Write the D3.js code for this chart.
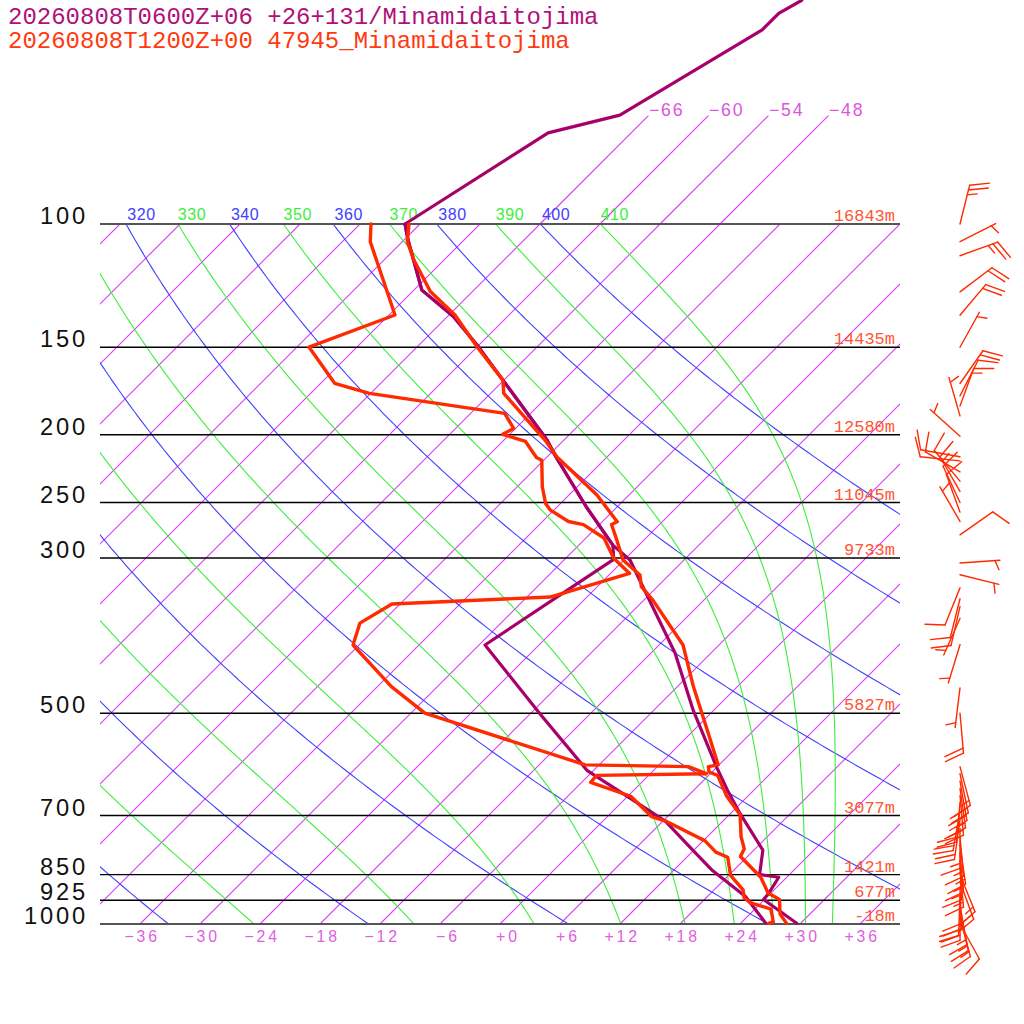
<!DOCTYPE html>
<html><head><meta charset="utf-8">
<script src="https://cdn.jsdelivr.net/npm/d3@7"></script>
<style>body{margin:0;background:#fff}</style>
</head><body>
<svg id="c" width="1024" height="1024" xmlns="http://www.w3.org/2000/svg"></svg>
<script>
// ---------------- data ----------------
const titleForecast = "20260808T0600Z+06 +26+131/Minamidaitojima";
const titleObserved = "20260808T1200Z+00 47945_Minamidaitojima";
const pressureLevels = [100,150,200,250,300,500,700,850,925,1000];
const heightLabels = ["16843m","14435m","12580m","11045m","9733m","5827m","3077m","1421m","677m","-18m"];
const tempTicks = [-36,-30,-24,-18,-12,-6,0,6,12,18,24,30,36];
const isotherms = [-108,-102,-96,-90,-84,-78,-72,-66,-60,-54,-48,-42,-36,-30,-24,-18,-12,-6,0,6,12,18,24,30,36];
const upperIsotherms = [-66,-60,-54,-48];
const dryAdiabats = [240,260,280,300,320,340,360,380,400];
const moistAdiabats = [250,270,290,310,330,350,370,390,410];

// observed sounding (red)
const obsTempP = [100,106,112.6,124.9,134.9,150.4,167.1,174.5,190.5,203.5,215.2,243.9,266.3,268.7,282.9,302,317.3,329.7,344.6,399.4,458,528,592.4,595.9,606.6,613.4,656.9,698.4,750.9,780.7,801,857.4,902.8,922.5,967.6,998];
const obsTemp  = [-79.1,-77.5,-75.0,-70.2,-65.4,-59.8,-54.1,-52.7,-47.7,-43.9,-41.0,-33.2,-28.5,-28.8,-26.7,-24.1,-20.9,-19.6,-17.1,-9.6,-4.4,1.3,5.9,5.1,5.7,6.9,9.9,13.1,15.4,16.9,17.3,21.4,23.7,25.5,27.0,28.6];
const obsDewP = [100,106,134.9,149.9,168.9,174.6,186.4,195.9,199.7,204.5,215.6,217.5,237.3,250.7,256.1,266.1,268.8,280.9,300.3,315.6,341.1,349.1,371.7,399.4,458,499.8,592.4,595.9,609.9,613.4,627.5,656.9,702.2,713.6,760.8,789.6,803,852.3,893.9,917.6,932.3,952.2,992.5,997.7];
const obsDew  = [-82.9,-81.2,-71.4,-76.8,-70.6,-66.1,-50.6,-48.2,-48.7,-45.7,-43.0,-42.2,-39.5,-37.5,-36.4,-33.4,-31.6,-28.2,-25.2,-22.1,-27.7,-42.8,-44.1,-42.6,-34.6,-28.6,-7.4,3.1,5.6,-5.2,-5.1,0.3,4.4,6.4,12.2,14.4,16.1,18.2,20.9,21.8,22.9,25.6,27.1,26.8];

// forecast sounding (purple)
const fcTempP = [47.9,50.0,52.8,69.9,74.1,100,105.4,124.3,135.6,148.9,167.1,203.5,215.2,253.5,287.6,302.0,322.8,410.0,494.5,595.9,643.1,694.5,784.3,849.5,857.4,903.6,922.5,997.7];
const fcTemp  = [-62.2,-63.2,-63.2,-68.9,-74.3,-79.5,-77.6,-71.2,-65.4,-60.2,-54.1,-43.7,-41.1,-33.1,-26.6,-23.4,-20.4,-9.6,-2.1,5.9,9.3,12.9,18.9,21.0,23.2,23.8,23.9,29.6];
const fcDewP = [100,105.4,124.3,135.6,148.9,167.1,203.5,215.2,253.5,287.6,301.3,399.4,502.0,603.9,660.8,713.6,776.5,838.7,913.6,995.6];
const fcDew  = [-79.5,-77.6,-71.2,-65.4,-60.2,-54.1,-43.7,-41.1,-33.1,-26.6,-25.1,-29.4,-16.9,-6.6,0.4,6.3,11.3,15.9,21.8,26.4];

// observed winds
const windP   = [100,106,111,125,135,150,169,176,182,188,201,215,218,226,233,241,250,258,266,278,305,317,331,343,352,366,399,460,500,596,610,625,640,655,670,690,710,730,750,770,790,810,830,850,870,890,910,925,940,960,980,1000];
const windDir = [14,63,70,53,40,29,35,27,20,344,312,280,276,300,320,330,335,340,330,55,86,104,202,194,193,204,197,187,175,165,168,170,172,175,185,190,188,180,175,172,175,178,175,158,160,178,182,180,170,168,165,151];
const windSpd = [25,5,25,20,20,5,20,10,15,5,5,10,10,10,10,15,10,10,5,10,5,5,10,10,10,5,5,5,20,15,20,20,15,20,20,20,20,15,15,15,15,15,15,15,15,20,20,20,15,15,15,10];

// ---------------- styles ----------------
const COL = {
  iso: "#d83cf4", isoLab: "#dd55dd", dry: "#4040ff", moist: "#3cee3c",
  fc: "#a8006a", fcTitle: "#b0107a", obs: "#ff2a00", obsTitle: "#ff3a10",
  hgt: "#ff5533", tick: "#e060e0"
};

// ---------------- scales ----------------
const svg = d3.select("#c");
const y = d3.scaleLog().domain([100, 1000]).range([224, 924]);
const xT = d3.scaleLinear().domain([-40, 40]).range([100, 900]);
const skewX = (t, p) => xT(t) + (y(1000) - y(p));

const defs = svg.append("defs");
defs.append("clipPath").attr("id","plot").append("rect").attr("x",100).attr("y",224).attr("width",800).attr("height",700);

const grid = svg.append("g").attr("clip-path","url(#plot)");
const lineGen = d3.line().x(d => skewX(d.t, d.p)).y(d => y(d.p));

// pressure sampling
const pSteps = [];
for (let lp = Math.log(1000); lp >= Math.log(100) - 1e-9; lp -= 0.01) pSteps.push(Math.exp(lp));

// isotherms
const isoG = grid.append("g").attr("stroke", COL.iso).attr("stroke-width", 1.1);
isotherms.forEach(t => {
  isoG.append("line")
    .attr("x1", skewX(t,1000)).attr("y1", y(1000))
    .attr("x2", skewX(t,100)).attr("y2", y(100))
    .attr("stroke", COL.iso);
});
const upIsoG = svg.append("g").attr("stroke", COL.iso).attr("stroke-width", 1.1);
upperIsotherms.forEach(t => {
  upIsoG.append("line")
    .attr("x1", skewX(t,100)).attr("y1", y(100))
    .attr("x2", skewX(t,70)).attr("y2", y(70))
    .attr("stroke", COL.iso);
  svg.append("text").attr("x", skewX(t,70)+0.5).attr("y", y(70)+0.5)
    .attr("font-family","Liberation Sans").attr("font-size",17.7).style("letter-spacing","1.8px")
    .attr("fill",COL.isoLab).text(String(t).replace("-","\u2212"));
});

// dry adiabats
const dryTop = {};
dryAdiabats.forEach(th => {
  const pts = pSteps.map(p => ({p, t: th*Math.pow(p/1000,0.2857) - 273.15}));
  dryTop[th] = pts[pts.length-1];
  grid.append("path").attr("d", lineGen(pts)).attr("fill","none").attr("stroke",COL.dry).attr("stroke-width",1.1);
});

// moist (pseudo) adiabats
function es(tc){ return 6.112*Math.exp(17.67*tc/(tc+243.5)); }
function rs(tc,p){ const e = es(tc); return 0.622*e/(p-e); }
function thetaE(tc,p){
  const r = rs(tc,p)*1000, tk = tc+273.15;
  return tk*Math.pow(1000/p, 0.2854*(1-0.00028*r))*Math.exp((3.376/tk-0.00254)*r*(1+0.00081*r));
}
function dTdp(tc,p){
  const tk = tc+273.15, r = rs(tc,p), Rd = 287.04, Lv = 2.501e6, Cp = 1005.7;
  return (Rd*tk + Lv*r)/(Cp + Lv*Lv*r*0.622/(Rd*tk*tk))/p;
}
const moistTop = {};
moistAdiabats.forEach(te => {
  let lo = -80, hi = 50;
  for (let i = 0; i < 60; i++) { const m = (lo+hi)/2; if (thetaE(m,1000) < te) lo = m; else hi = m; }
  let t = (lo+hi)/2, p = 1000;
  const pts = [{p, t}];
  const dp = -2;
  while (p > 100 + 1e-6) {
    const h = Math.max(dp, 100 - p);
    const k1 = dTdp(t,p), k2 = dTdp(t+h*k1/2,p+h/2), k3 = dTdp(t+h*k2/2,p+h/2), k4 = dTdp(t+h*k3,p+h);
    t += h*(k1+2*k2+2*k3+k4)/6; p += h;
    pts.push({p, t});
  }
  moistTop[te] = pts[pts.length-1];
  grid.append("path").attr("d", lineGen(pts)).attr("fill","none").attr("stroke",COL.moist).attr("stroke-width",1.1);
});

// adiabat labels along the 100 hPa line (only those reaching the plot)
const labG = svg.append("g");
function adiabatLabel(x, txt, col){
  if (x < 95 || x > 900) return;
  labG.append("text").attr("x", x).attr("y", 220)
    .attr("font-family","Liberation Sans").attr("font-size",16).style("letter-spacing","0.6px")
    .attr("fill",col).text(txt);
}
dryAdiabats.forEach(th => adiabatLabel(skewX(dryTop[th].t,100), th, COL.dry));
moistAdiabats.forEach(te => adiabatLabel(skewX(moistTop[te].t,100), te, COL.moist));

// pressure lines + labels
pressureLevels.forEach((p,i) => {
  const edge = (p === 100 || p === 1000);
  svg.append("line").attr("x1",100).attr("x2",900).attr("y1",y(p)).attr("y2",y(p))
    .attr("stroke", edge ? "#555" : "#000").attr("stroke-width", edge ? 2 : 1.4);
  svg.append("text").attr("x", 88).attr("y", y(p))
    .attr("text-anchor","end").attr("font-family","Liberation Sans").attr("font-size",23.7)
    .style("letter-spacing","2.8px").attr("fill","#111").text(p);
  svg.append("text").attr("x", 895).attr("y", y(p) - 3)
    .attr("text-anchor","end").attr("font-family","Liberation Mono").attr("font-size",17)
    .attr("fill",COL.hgt).text(heightLabels[i]);
});

// temperature tick labels
tempTicks.forEach(t => {
  const s = t > 0 ? "+" + t : (t === 0 ? "+0" : "\u2212" + Math.abs(t));
  svg.append("text").attr("x", xT(t) + 17 + 2.9).attr("y", 942)
    .attr("text-anchor","end").attr("font-family","Liberation Sans").attr("font-size",15.8)
    .style("letter-spacing","2.9px").attr("fill",COL.tick).text(s);
});

// titles
svg.append("text").attr("x",8).attr("y",24).attr("font-family","Liberation Mono").attr("font-size",24)
  .attr("fill",COL.fcTitle).text(titleForecast);
svg.append("text").attr("x",8).attr("y",48).attr("font-family","Liberation Mono").attr("font-size",24)
  .attr("fill",COL.obsTitle).text(titleObserved);

// profiles
const zip = (ps, ts) => ps.map((p,i) => ({p, t: ts[i]}));
function profile(ps, ts, col, w){
  svg.append("path").attr("d", lineGen(zip(ps,ts))).attr("fill","none")
    .attr("stroke",col).attr("stroke-width",w).attr("stroke-linejoin","round").attr("stroke-linecap","round");
}
profile(fcDewP, fcDew, COL.fc, 3.2);
profile(fcTempP, fcTemp, COL.fc, 3.2);
profile(obsDewP, obsDew, COL.obs, 3.4);
profile(obsTempP, obsTemp, COL.obs, 3.4);

// wind barbs
const barbG = svg.append("g").attr("stroke", COL.obs).attr("stroke-width",1.4).attr("fill","none").attr("stroke-linecap","round");
function barb(x0, y0, dir, spd){
  const a = dir*Math.PI/180, ux = Math.sin(a), uy = -Math.cos(a), L = 40;
  const tx = x0 + L*ux, ty = y0 + L*uy;
  barbG.append("line").attr("x1",x0).attr("y1",y0).attr("x2",tx).attr("y2",ty);
  const px = -uy, py = ux, tl = 20*Math.PI/180;
  const fx = px*Math.cos(tl) + ux*Math.sin(tl), fy = py*Math.cos(tl) + uy*Math.sin(tl);
  const s = Math.round(spd/5)*5, nFull = Math.floor(s/10), half = (s % 10) >= 5;
  let pos = 0;
  for (let i = 0; i < nFull; i++) {
    const sx = tx - pos*ux, sy = ty - pos*uy;
    barbG.append("line").attr("x1",sx).attr("y1",sy).attr("x2",sx+20*fx).attr("y2",sy+20*fy);
    pos += 5;
  }
  if (half) {
    if (nFull === 0) pos = 5;
    const sx = tx - pos*ux, sy = ty - pos*uy;
    barbG.append("line").attr("x1",sx).attr("y1",sy).attr("x2",sx+10*fx).attr("y2",sy+10*fy);
  }
}
windP.forEach((p,i) => barb(960, y(p), windDir[i], windSpd[i]));
</script>
</body></html>
